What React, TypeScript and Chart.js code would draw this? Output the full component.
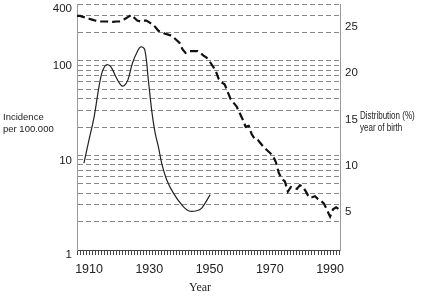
import React, { useEffect, useRef } from "react";
import { Chart, registerables } from "chart.js";

Chart.register(...registerables);

const distYears = [
  1906, 1907, 1908, 1909, 1910, 1911, 1912, 1913, 1914, 1915, 1916, 1917, 1918, 1919, 1920,
  1921, 1922, 1923, 1924, 1925, 1926, 1927, 1928, 1929, 1930, 1931, 1932, 1933, 1934, 1935,
  1936, 1937, 1938, 1939, 1940, 1941, 1942, 1943, 1944, 1945, 1946, 1947, 1948, 1949, 1950,
  1951, 1952, 1953, 1954, 1955, 1956, 1957, 1958, 1959, 1960, 1961, 1962, 1963, 1964, 1965,
  1966, 1967, 1968, 1969, 1970, 1971, 1972, 1973, 1974, 1975, 1976, 1977, 1978, 1979, 1980,
  1981, 1982, 1983, 1984, 1985, 1986, 1987, 1988, 1989, 1990, 1991, 1992, 1993,
];
const distValues = [
  26.2, 26.2, 26.1, 26.0, 25.9, 25.8, 25.7, 25.6, 25.6, 25.6, 25.6, 25.55, 25.55, 25.6, 25.6,
  25.7, 25.9, 26.1, 26.3, 26.0, 25.7, 25.6, 25.7, 25.7, 25.5, 25.3, 25.0, 24.6, 24.5, 24.3,
  24.2, 24.1, 23.9, 23.6, 23.3, 22.6, 22.2, 22.4, 22.4, 22.4, 22.4, 22.2, 21.9, 21.7, 21.3,
  20.8, 20.3, 19.4, 19.0, 18.8, 18.0, 17.2, 16.8, 16.4, 15.7, 15.0, 14.2, 14.3, 13.4, 12.9,
  12.8, 12.4, 12.0, 11.7, 11.4, 11.1, 10.4, 9.2, 8.6, 8.3, 7.2, 7.7, 7.6, 7.5, 7.9,
  7.7, 7.2, 6.6, 6.6, 6.7, 6.4, 6.2, 5.9, 5.2, 4.5, 5.3, 5.5, 5.3,
];

const incYears = [
  1908.3, 1910, 1911.7, 1913.3, 1914.4, 1915.7, 1917.2, 1918.9, 1920.5, 1921.6, 1922.9,
  1924.4, 1926, 1927.2, 1928.5, 1929.7, 1930.8, 1931.9, 1933, 1934.1, 1935.8, 1938, 1940.8,
  1943, 1945.7, 1947.4, 1950.2,
];
const incValues = [
  8.3, 14.7, 25.8, 53.5, 77, 90.7, 87, 68, 55.8, 54.5, 63, 94.6, 125, 141, 131, 62, 30, 17.5,
  12.4, 8.3, 5.5, 4.0, 3.0, 2.6, 2.6, 2.78, 3.85,
];

const leftTicks = [1, 2, 3, 4, 5, 6, 7, 8, 9, 10, 20, 30, 40, 50, 60, 70, 80, 90, 100, 200, 300, 400];
const leftLabels = [1, 10, 100, 400];
const rightTicks = [5, 10, 15, 20, 25];
const xLabelYears = [1910, 1930, 1950, 1970, 1990];

const SANS = "'Liberation Sans', Arial, sans-serif";
const SERIF = "'Liberation Serif', 'Times New Roman', serif";

function condensed(ctx: any, text: string, x: number, y: number, sx: number) {
  ctx.save();
  ctx.translate(x, y);
  ctx.scale(sx, 1);
  ctx.fillText(text, 0, 0);
  ctx.restore();
}

const textPlugin = {
  id: "textLabels",
  afterDraw(chart: any) {
    const ctx = chart.ctx;
    ctx.save();
    ctx.fillStyle = "#222";
    ctx.textBaseline = "middle";
    ctx.textAlign = "left";
    ctx.font = `9.5px ${SANS}`;
    ctx.fillText("Incidence", 3, 117);
    ctx.fillText("per 100.000", 3, 129);
    ctx.font = `10px ${SANS}`;
    condensed(ctx, "Distribution (%)", 360, 116, 0.8);
    condensed(ctx, "year of birth", 360, 128, 0.8);
    ctx.textAlign = "center";
    ctx.font = `12px ${SERIF}`;
    ctx.fillText("Year", 200, 288);
    ctx.restore();
  },
};

export default function App() {
  const ref = useRef<HTMLCanvasElement | null>(null);

  useEffect(() => {
    if (!ref.current) return;
    const chart = new Chart(ref.current, {
      type: "line",
      data: {
        datasets: [
          {
            label: "Distribution (%)",
            data: distYears.map((x, i) => ({ x, y: distValues[i] })),
            yAxisID: "y2",
            borderColor: "#111",
            borderWidth: 2.2,
            borderDash: [8, 4],
            pointRadius: 0,
            tension: 0,
            fill: false,
          },
          {
            label: "Incidence",
            data: incYears.map((x, i) => ({ x, y: incValues[i] })),
            yAxisID: "y",
            borderColor: "#222",
            borderWidth: 1.2,
            pointRadius: 0,
            tension: 0.35,
            fill: false,
          },
        ],
      },
      options: {
        responsive: false,
        animation: false,
        events: [],
        layout: { padding: { top: 4, left: 0, right: 0, bottom: 0 } },
        plugins: { legend: { display: false }, tooltip: { enabled: false } },
        scales: {
          x: {
            type: "linear",
            min: 1906,
            max: 1993.3,
            afterBuildTicks: (scale: any) => {
              scale.ticks = distYears.map((v) => ({ value: v }));
            },
            afterFit: (scale: any) => {
              scale.height = 47;
              scale.paddingLeft = 0;
              scale.paddingRight = 0;
            },
            ticks: {
              autoSkip: false,
              maxRotation: 0,
              padding: 7,
              color: "#222",
              font: { family: SANS, size: 12.5 },
              callback: (v: any) => (xLabelYears.includes(v) ? String(v) : ""),
            },
            grid: {
              drawOnChartArea: false,
              drawTicks: true,
              tickLength: 5,
              color: "#444",
              lineWidth: 1,
            },
            border: { display: true, color: "#444", width: 1 },
          },
          y: {
            type: "logarithmic",
            position: "left",
            min: 1,
            max: 400,
            afterBuildTicks: (scale: any) => {
              scale.ticks = leftTicks.map((v) => ({ value: v }));
            },
            afterFit: (scale: any) => {
              scale.width = 77;
              scale.paddingTop = 0;
              scale.paddingBottom = 0;
            },
            ticks: {
              autoSkip: false,
              padding: 5,
              labelOffset: 5,
              color: "#222",
              font: { family: SANS, size: 11.5 },
              callback: (v: any) => (leftLabels.includes(v) ? String(v) : ""),
            },
            grid: {
              drawTicks: false,
              color: (c: any) => (c.tick && c.tick.value === 1 ? "rgba(0,0,0,0)" : "#888"),
              lineWidth: 1,
            },
            border: { display: true, color: "#999", width: 1, dash: [5, 3] },
          },
          y2: {
            type: "linear",
            position: "right",
            min: 0.89,
            max: 27.49,
            afterBuildTicks: (scale: any) => {
              scale.ticks = rightTicks.map((v) => ({ value: v }));
            },
            afterFit: (scale: any) => {
              scale.width = 94;
              scale.paddingTop = 0;
              scale.paddingBottom = 0;
            },
            ticks: {
              padding: 5,
              color: "#222",
              font: { family: SANS, size: 11.5 },
            },
            grid: { display: false, drawTicks: false },
            border: { display: true, color: "#999", width: 1 },
          },
        },
      },
      plugins: [textPlugin],
    } as any);
    return () => chart.destroy();
  }, []);

  return (
    <div style={{ position: "absolute", left: 0, top: 0, width: 434, height: 297, background: "#fff" }}>
      <canvas ref={ref} width={434} height={297} style={{ width: 434, height: 297 }} />
    </div>
  );
}
